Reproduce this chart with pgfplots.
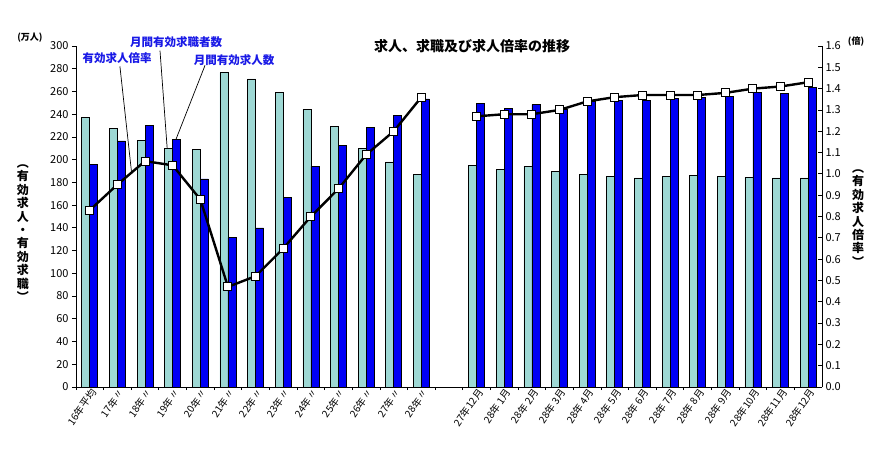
\documentclass[border=0pt]{standalone}
\usepackage{fontspec}
\setmainfont{Noto Sans CJK JP}
\usepackage{pgfplots}
\usepackage{pgfplotstable}
\pgfplotsset{compat=1.18}
\definecolor{lightbar}{RGB}{158,216,212}
\definecolor{darkbar}{RGB}{0,0,245}
\definecolor{annblue}{RGB}{25,25,230}

\pgfplotstableread{
x light dark
0 237 196
1 227.5 216.5
2 216.7 229.8
3 209.6 218
4 209 183
5 276.6 131.5
6 271 140
7 259 167
8 244.4 194
9 229.5 212.5
10 210 228
11 198 238.6
12 186.8 253.5
14 195.3 249.4
15 191.2 245.3
16 194.2 248.5
17 190 244
18 187 251
19 185 252
20 184 252.3
21 185 254
22 186 254.4
23 185 255.6
24 184.5 258.8
25 184 258.5
26 184 263.7
}\bars

\pgfplotstableread{
x r
0 0.83
1 0.95
2 1.06
3 1.04
4 0.88
5 0.47
6 0.52
7 0.65
8 0.80
9 0.93
10 1.09
11 1.20
12 1.36
}\ratioA

\pgfplotstableread{
x r
14 1.27
15 1.28
16 1.28
17 1.30
18 1.34
19 1.36
20 1.37
21 1.37
22 1.37
23 1.38
24 1.40
25 1.41
26 1.43
}\ratioB

\begin{document}
\begin{tikzpicture}
\pgfplotsset{
  base/.style={
    scale only axis, width=746pt, height=341pt,
    xmin=-0.5, xmax=26.5,
    /pgf/number format/assume math mode=true,
    every axis line/.style={line width=1pt, black},
    tick style={black, line width=0.8pt},
    yticklabel style={font=\fontsize{11}{11}\selectfont},
  }
}
\begin{axis}[base,
  ymin=0, ymax=300,
  axis y line*=left, axis x line*=bottom,
  ytick={0,20,40,60,80,100,120,140,160,180,200,220,240,260,280,300},
  ytick align=outside,
  major tick length=4pt,
  xtick={0,1,2,3,4,5,6,7,8,9,10,11,12,14,15,16,17,18,19,20,21,22,23,24,25,26},
  xticklabels={16年平均,17年〃,18年〃,19年〃,20年〃,21年〃,22年〃,23年〃,24年〃,25年〃,26年〃,27年〃,28年〃,27年12月,28年 1月,28年 2月,28年 3月,28年 4月,28年 5月,28年 6月,28年 7月,28年 8月,28年 9月,28年10月,28年11月,28年12月},
  xticklabel style={rotate=55, anchor=east, font=\fontsize{10}{10}\selectfont, xshift=4pt, yshift=-3pt, inner sep=1pt},
  major x tick style={draw=none},
  minor xtick={-0.5,0.5,1.5,2.5,3.5,4.5,5.5,6.5,7.5,8.5,9.5,10.5,11.5,12.5,13.5,14.5,15.5,16.5,17.5,18.5,19.5,20.5,21.5,22.5,23.5,24.5,25.5},
  minor tick length=3pt,
  xtick align=inside,
  ybar=0pt, bar width=8pt,
  clip=false,
]
\addplot[fill=lightbar, draw=black, line width=0.7pt] table[x=x, y=light] {\bars};
\addplot[fill=darkbar, draw=black, line width=0.7pt] table[x=x, y=dark] {\bars};
\draw[black, line width=0.7pt] (axis cs:1.09,282) -- (axis cs:1.51,189);
\draw[black, line width=0.7pt] (axis cs:2.54,296) -- (axis cs:2.80,210);
\draw[black, line width=0.7pt] (axis cs:4.17,283) -- (axis cs:3.12,218);
\end{axis}
\begin{axis}[base,
  ymin=0, ymax=1.6,
  axis y line*=right, axis x line=none,
  ytick={0,0.1,0.2,0.3,0.4,0.5,0.6,0.7,0.8,0.9,1.0,1.1,1.2,1.3,1.4,1.5,1.6},
  ytick align=inside,
  major tick length=4pt,
  yticklabel style={/pgf/number format/.cd, fixed, fixed zerofill, precision=1},
  clip=false,
]
\addplot[black, line width=2.4pt, mark=square*, mark size=4pt, mark options={fill=white, draw=black, line width=1pt}] table[x=x, y=r] {\ratioA};
\addplot[black, line width=2.4pt, mark=square*, mark size=4pt, mark options={fill=white, draw=black, line width=1pt}] table[x=x, y=r] {\ratioB};
\end{axis}
% texts
\node[font=\fontsize{14}{14}\selectfont\bfseries] at (396pt,341pt) {求人、求職及び求人倍率の推移};
\node[font=\fontsize{9}{9}\selectfont\bfseries] at (-46pt,349pt) {(万人)};
\node[font=\fontsize{9}{9}\selectfont\bfseries] at (780pt,345pt) {(倍)};
\node[font=\fontsize{11.5}{12}\selectfont\bfseries, text=annblue] at (41pt,329pt) {有効求人倍率};
\node[font=\fontsize{11.5}{12}\selectfont\bfseries, text=annblue] at (100pt,345pt) {月間有効求職者数};
\node[font=\fontsize{11.5}{12}\selectfont\bfseries, text=annblue] at (158pt,327pt) {月間有効求人数};
\node[font=\fontsize{12}{13.4}\selectfont\bfseries, align=center, inner sep=0pt] at (-53pt,154pt)
  {︵\\有\\効\\求\\人\\・\\有\\効\\求\\職\\︶};
\node[font=\fontsize{12}{13.4}\selectfont\bfseries, align=center, inner sep=0pt] at (782pt,169pt)
  {︵\\有\\効\\求\\人\\倍\\率\\︶};
\pgfresetboundingbox
\useasboundingbox (-76pt,-69pt) rectangle (804pt,387pt);
\end{tikzpicture}
\end{document}
